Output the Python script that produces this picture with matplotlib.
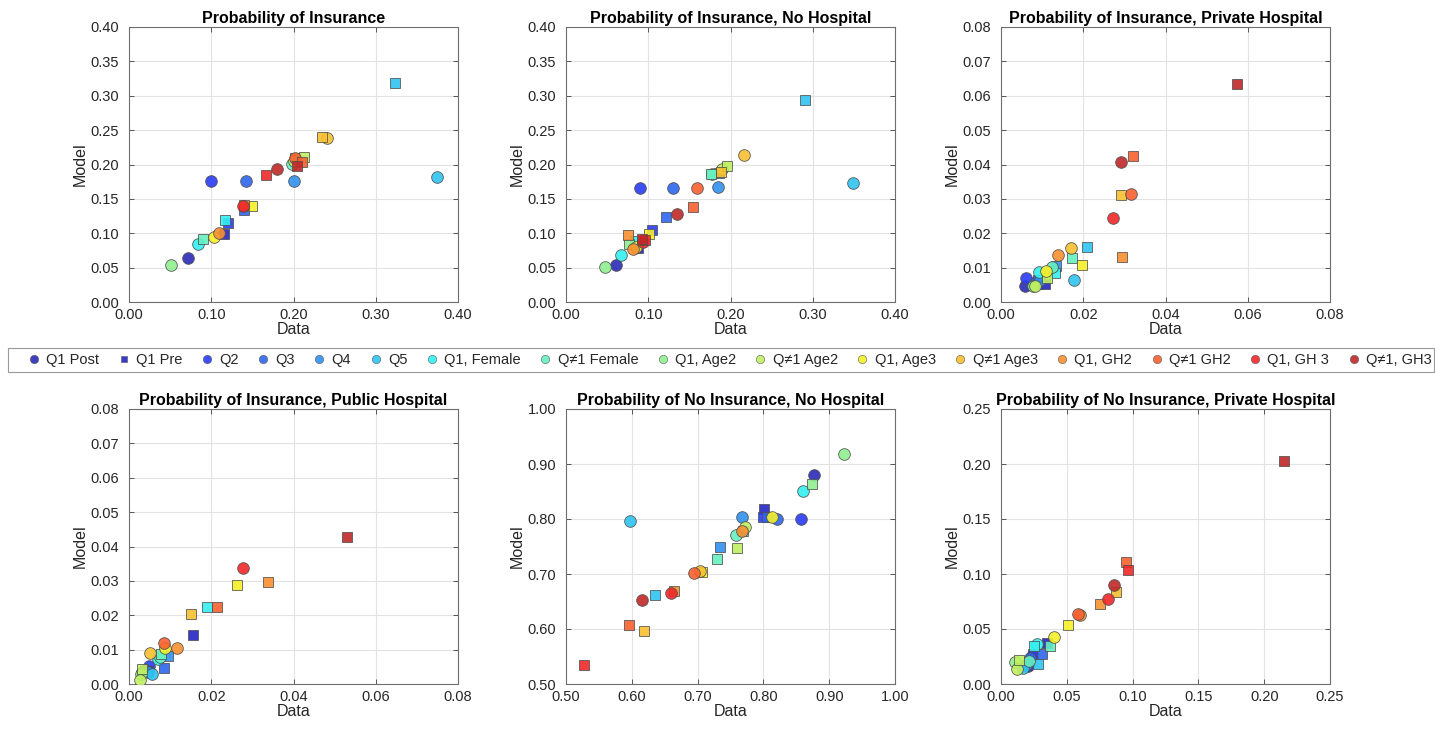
import numpy as np
import matplotlib
matplotlib.use("Agg")
import matplotlib.pyplot as plt
from matplotlib.lines import Line2D
from matplotlib.patches import Rectangle
from matplotlib.ticker import FormatStrFormatter, MultipleLocator

plt.rcParams['font.family'] = ['Liberation Sans', 'DejaVu Sans']

nan = np.nan

# ---------------- legend / groups ----------------
GROUP_LABELS = ["Q1 Post", "Q1 Pre", "Q2", "Q3", "Q4", "Q5", "Q1, Female", "Q\u22601 Female",
                "Q1, Age2", "Q\u22601 Age2", "Q1, Age3", "Q\u22601 Age3", "Q1, GH2", "Q\u22601 GH2",
                "Q1, GH 3", "Q\u22601, GH3"]
GROUP_COLORS = ['#2b2bb8', '#2626c4', '#2a3cf5', '#2e66f0', '#3090ee', '#30c4f2', '#33f0f0', '#66f0c0',
                '#90f090', '#c0f060', '#f5f028', '#f8c030', '#f89030', '#f86030', '#f02828', '#c02828']
LEGEND_MARKERS = ['o', 's'] + ['o'] * 14

# ---------------- panel titles ----------------
TITLES = ["Probability of Insurance", "Probability of Insurance, No Hospital",
          "Probability of Insurance, Private Hospital", "Probability of Insurance, Public Hospital",
          "Probability of No Insurance, No Hospital", "Probability of No Insurance, Private Hospital"]

# ---------------- data (circle = one sample, square = other sample), per group ----------------
# Panel 1: Probability of Insurance
p1_circ_data  = [0.072, nan, 0.100, 0.142, 0.2006, 0.3745, 0.084, 0.1986, 0.051, 0.200, 0.103, 0.241, 0.109, 0.2015, 0.138, 0.180]
p1_circ_model = [0.064, nan, 0.176, 0.176, 0.1765, 0.182, 0.085, 0.2008, 0.054, 0.205, 0.095, 0.239, 0.101, 0.210, 0.139, 0.194]
p1_sq_data    = [nan, 0.1155, 0.120, 0.140, nan, 0.324, 0.117, 0.090, 0.202, 0.2128, 0.149, 0.235, 0.140, 0.2108, 0.167, 0.204]
p1_sq_model   = [nan, 0.0985, 0.1145, 0.134, nan, 0.318, 0.120, 0.092, 0.209, 0.2105, 0.139, 0.2405, 0.141, 0.204, 0.185, 0.1985]

# Panel 2: Probability of Insurance, No Hospital
p2_circ_data  = [0.0604, nan, 0.0904, 0.1297, 0.1848, 0.3493, 0.0665, 0.178, 0.0474, 0.1893, 0.085, 0.2164, 0.0819, 0.1589, 0.094, 0.1353]
p2_circ_model = [0.0538, nan, 0.1653, 0.1653, 0.1677, 0.1726, 0.0689, 0.186, 0.0505, 0.1935, 0.080, 0.2138, 0.0766, 0.1653, 0.088, 0.1275]
p2_sq_data    = [nan, 0.0871, 0.1046, 0.1212, 0.1864, 0.291, 0.0839, 0.1767, 0.077, 0.1961, 0.1009, 0.1884, 0.0754, 0.1548, 0.096, 0.0928]
p2_sq_model   = [nan, 0.078, 0.1047, 0.1241, 0.1876, 0.2934, 0.0892, 0.1866, 0.0844, 0.1983, 0.0994, 0.189, 0.098, 0.1387, 0.0897, 0.092]

# Panel 3: Probability of Insurance, Private Hospital
p3_circ_data  = [0.0058, nan, 0.0060, 0.0085, 0.0095, 0.0177, 0.0092, 0.0123, 0.0078, 0.0082, 0.0109, 0.0170, 0.0138, 0.0316, 0.0273, 0.0293]
p3_circ_model = [0.0048, nan, 0.0069, 0.0058, 0.0065, 0.0063, 0.0088, 0.0101, 0.0048, 0.0047, 0.0091, 0.0157, 0.0136, 0.0314, 0.0245, 0.0408]
p3_sq_data    = [nan, 0.0107, 0.0091, 0.0091, 0.0134, 0.0209, 0.0132, 0.0173, nan, 0.0112, 0.0198, 0.0293, 0.0295, 0.0322, nan, 0.0574]
p3_sq_model   = [nan, 0.0051, 0.0051, 0.0063, 0.0106, 0.0161, 0.0083, 0.0129, nan, 0.0069, 0.0107, 0.0311, 0.0131, 0.0425, nan, 0.0635]

# Panel 4: Probability of Insurance, Public Hospital
p4_circ_data  = [0.0031, nan, 0.0049, 0.0040, 0.0045, 0.0055, 0.0071, 0.0075, 0.0028, 0.0027, 0.0088, 0.0051, 0.0117, 0.0084, 0.0276, nan]
p4_circ_model = [0.0034, nan, 0.0053, 0.0040, 0.0035, 0.0029, 0.0074, 0.0080, 0.0030, 0.0012, 0.0106, 0.0089, 0.0104, 0.0119, 0.0338, nan]
p4_sq_data    = [nan, 0.0156, 0.0045, 0.0085, 0.0096, nan, 0.0189, 0.0077, nan, 0.0031, 0.0263, 0.0150, 0.0339, 0.0215, nan, 0.0529]
p4_sq_model   = [nan, 0.0143, 0.0038, 0.0048, 0.0082, nan, 0.0224, 0.0086, nan, 0.0043, 0.0288, 0.0203, 0.0297, 0.0224, nan, 0.0427]

# Panel 5: Probability of No Insurance, No Hospital
p5_circ_data  = [0.877, nan, 0.8576, 0.8202, 0.7675, 0.5973, 0.8597, 0.7588, 0.9229, 0.772, 0.8126, 0.704, 0.767, 0.694, 0.6591, 0.616]
p5_circ_model = [0.8804, nan, 0.8002, 0.8007, 0.8031, 0.7966, 0.8502, 0.7717, 0.9185, 0.785, 0.8031, 0.705, 0.7777, 0.7011, 0.6649, 0.6527]
p5_sq_data    = [nan, 0.8004, 0.7994, 0.806, 0.7345, 0.6357, 0.7695, 0.729, 0.8744, 0.7594, 0.7067, 0.6185, 0.6641, 0.5957, 0.5274, nan]
p5_sq_model   = [nan, 0.8188, 0.8038, 0.8043, 0.7487, 0.6618, 0.7784, 0.7276, 0.8641, 0.7469, 0.7041, 0.5966, 0.6685, 0.6081, 0.5344, nan]

# Panel 6: Probability of No Insurance, Private Hospital
p6_circ_data  = [0.0208, nan, 0.0233, 0.0220, 0.0190, 0.0170, 0.0271, 0.0215, 0.0106, 0.0124, 0.0405, nan, 0.0600, 0.0583, 0.0815, 0.0861]
p6_circ_model = [0.0166, nan, 0.0256, 0.0240, 0.0170, 0.0142, 0.0362, 0.0211, 0.0197, 0.0136, 0.0423, nan, 0.0625, 0.0640, 0.0770, 0.0897]
p6_sq_data    = [nan, 0.0352, 0.0246, 0.0309, nan, 0.0279, 0.0253, 0.0372, nan, 0.0139, 0.0512, 0.0874, 0.0752, 0.0952, 0.0968, 0.2153]
p6_sq_model   = [nan, 0.0377, 0.0272, 0.0272, nan, 0.0181, 0.0347, 0.0341, nan, 0.0220, 0.0540, 0.0836, 0.0725, 0.1105, 0.1033, 0.2026]

PANEL_DATA = [
    (p1_circ_data, p1_circ_model, p1_sq_data, p1_sq_model),
    (p2_circ_data, p2_circ_model, p2_sq_data, p2_sq_model),
    (p3_circ_data, p3_circ_model, p3_sq_data, p3_sq_model),
    (p4_circ_data, p4_circ_model, p4_sq_data, p4_sq_model),
    (p5_circ_data, p5_circ_model, p5_sq_data, p5_sq_model),
    (p6_circ_data, p6_circ_model, p6_sq_data, p6_sq_model),
]
# axis limits and tick steps
LIMITS = [(0, 0.4), (0, 0.4), (0, 0.08), (0, 0.08), (0.5, 1.0), (0, 0.25)]
STEPS_X = [0.1, 0.1, 0.02, 0.02, 0.1, 0.05]
STEPS_Y = [0.05, 0.05, 0.01, 0.01, 0.1, 0.05]

# ---------------- figure ----------------
W, H = 1435, 730
fig = plt.figure(figsize=(W / 100, H / 100), dpi=100)

lefts = [129, 566, 1001]
tops = [27, 409]
aw, ah = 329, 275

TXT = '#262626'
for i in range(6):
    r, c = divmod(i, 3)
    x0 = lefts[c]
    y0 = tops[r]
    ax = fig.add_axes([x0 / W, 1 - (y0 + ah) / H, aw / W, ah / H])
    cd, cm, sd, sm = PANEL_DATA[i]
    for g in range(16):
        col = GROUP_COLORS[g]
        ax.plot(cd[g], cm[g], 'o', ms=8.4, mfc=col, mec='#4d4d4d', mew=0.6, alpha=0.9, zorder=3)
        ax.plot(sd[g], sm[g], 's', ms=7.0, mfc=col, mec='#4d4d4d', mew=0.6, alpha=0.9, zorder=3)
    lo, hi = LIMITS[i]
    ax.set_xlim(lo, hi)
    ax.set_ylim(lo, hi)
    ax.xaxis.set_major_locator(MultipleLocator(STEPS_X[i]))
    ax.yaxis.set_major_locator(MultipleLocator(STEPS_Y[i]))
    ax.xaxis.set_major_formatter(FormatStrFormatter('%.2f'))
    ax.yaxis.set_major_formatter(FormatStrFormatter('%.2f'))
    ax.grid(True, color='#e3e3e3', lw=0.8, zorder=0)
    ax.set_axisbelow(True)
    ax.tick_params(direction='in', top=True, right=True, length=3.5, width=0.7,
                   colors='#555555', labelcolor=TXT, labelsize=10.5)
    ax.tick_params(axis='x', pad=4)
    ax.tick_params(axis='y', pad=7)
    for s in ax.spines.values():
        s.set_color('#6e6e6e')
        s.set_linewidth(0.8)
    ax.set_xlabel('Data', fontsize=11.5, color=TXT, labelpad=0)
    ax.set_ylabel('Model', fontsize=11.5, color=TXT, labelpad=2)
    ax.set_title(TITLES[i], fontsize=11.5, fontweight='bold', color='black', pad=3)

# legend frame drawn as a figure rectangle (spans nearly the full width)
fig.patches.append(Rectangle((8 / W, 1 - 372 / H), (1434 - 8) / W, 24 / H, transform=fig.transFigure,
                             facecolor='white', edgecolor='#9a9a9a', lw=0.8, zorder=1))

handles = [Line2D([], [], ls='none', marker=LEGEND_MARKERS[g],
                  ms=6 if LEGEND_MARKERS[g] == 'o' else 5,
                  mfc=GROUP_COLORS[g], mec='#4d4d4d', mew=0.4, alpha=0.9) for g in range(16)]
leg = fig.legend(handles, GROUP_LABELS, loc='center', bbox_to_anchor=(730 / W, 1 - 360 / H),
                 ncol=16, fontsize=10.5, frameon=False, handlelength=0.8,
                 handletextpad=0.45, columnspacing=1.27, borderpad=0.2, borderaxespad=0)
leg.set_zorder(2)
for t in leg.get_texts():
    t.set_color(TXT)

fig.savefig('out.png', dpi=100)
